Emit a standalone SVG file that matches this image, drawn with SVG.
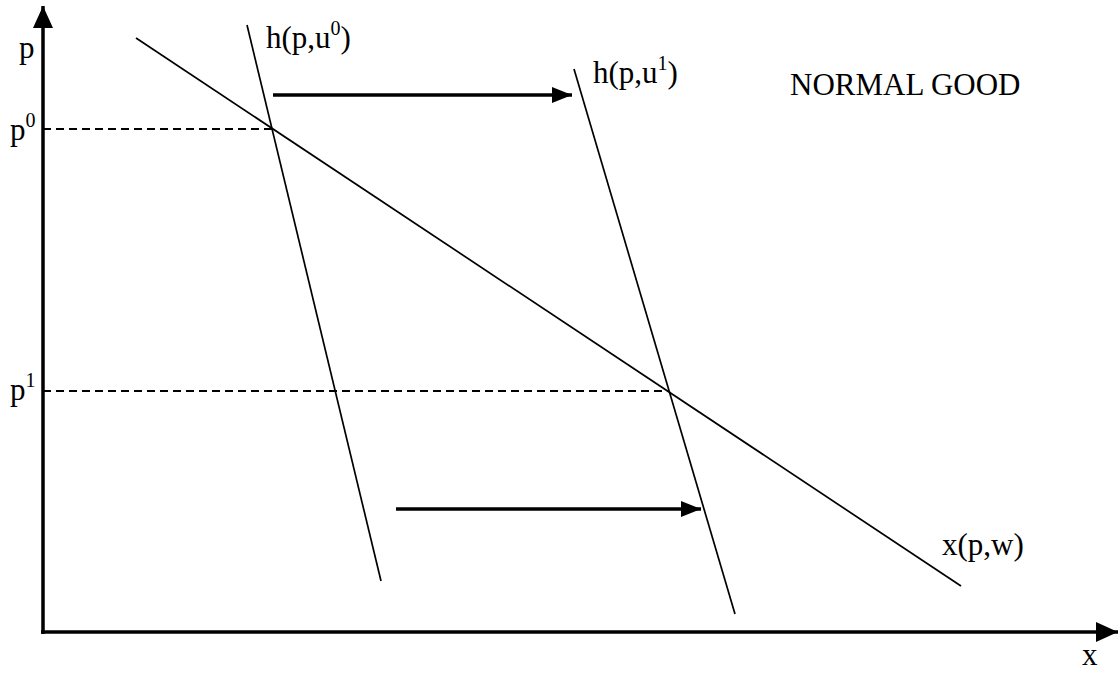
<svg xmlns="http://www.w3.org/2000/svg" width="1120" height="675" viewBox="0 0 1120 675">
<style>
.t{font-family:"Liberation Serif","Times New Roman",serif;font-size:31px;fill:#000}
.s{font-size:20px}
.ln{stroke:#000;stroke-width:1.7;fill:none}
.ax{stroke:#000;stroke-width:3.5;fill:none}
.ar{stroke:#000;stroke-width:3.5;fill:none}
.d{stroke:#000;stroke-width:2;stroke-dasharray:8,5;fill:none}
</style>
<defs>
<marker id="ah" markerUnits="userSpaceOnUse" markerWidth="20" markerHeight="20" viewBox="0 0 20 20" refX="20" refY="10" orient="auto"><path d="M0,2 L20,10 L0,18 Z" fill="#000"/></marker>
<marker id="axh" markerUnits="userSpaceOnUse" markerWidth="22" markerHeight="22" viewBox="0 0 22 22" refX="22" refY="11" orient="auto"><path d="M0,1 L22,11 L0,21 Z" fill="#000"/></marker>
</defs>
<g id="axes">
<line class="ax" x1="43" y1="634" x2="43" y2="6" marker-end="url(#axh)"/>
<line class="ax" x1="41" y1="632" x2="1118" y2="632" marker-end="url(#axh)"/>
</g>
<g id="connectors">
<line class="d" x1="43" y1="129" x2="273" y2="129"/>
<line class="d" x1="43" y1="391" x2="668" y2="391"/>
<line class="ar" x1="273" y1="95" x2="572" y2="95" marker-end="url(#ah)"/>
<line class="ar" x1="396" y1="509" x2="701" y2="509" marker-end="url(#ah)"/>
</g>
<g id="x-demand"><line class="ln" x1="136" y1="38" x2="961" y2="586"/><text class="t" x="942" y="555">x(p,w)</text></g>
<g id="h0"><line class="ln" x1="247" y1="25" x2="381" y2="581"/><text class="t" x="266" y="48">h(p,u<tspan class="s" dy="-13">0</tspan><tspan dy="13">)</tspan></text></g>
<g id="h1"><line class="ln" x1="574" y1="69" x2="735" y2="614"/><text class="t" x="593" y="83">h(p,u<tspan class="s" dy="-13">1</tspan><tspan dy="13">)</tspan></text></g>
<g id="labels">
<text class="t" x="19" y="58">p</text>
<text class="t" x="10" y="140">p<tspan class="s" dy="-13">0</tspan></text>
<text class="t" x="10" y="400">p<tspan class="s" dy="-13">1</tspan></text>
<text class="t" x="1082" y="665">x</text>
<text class="t" x="790" y="95">NORMAL GOOD</text>
</g>
</svg>
